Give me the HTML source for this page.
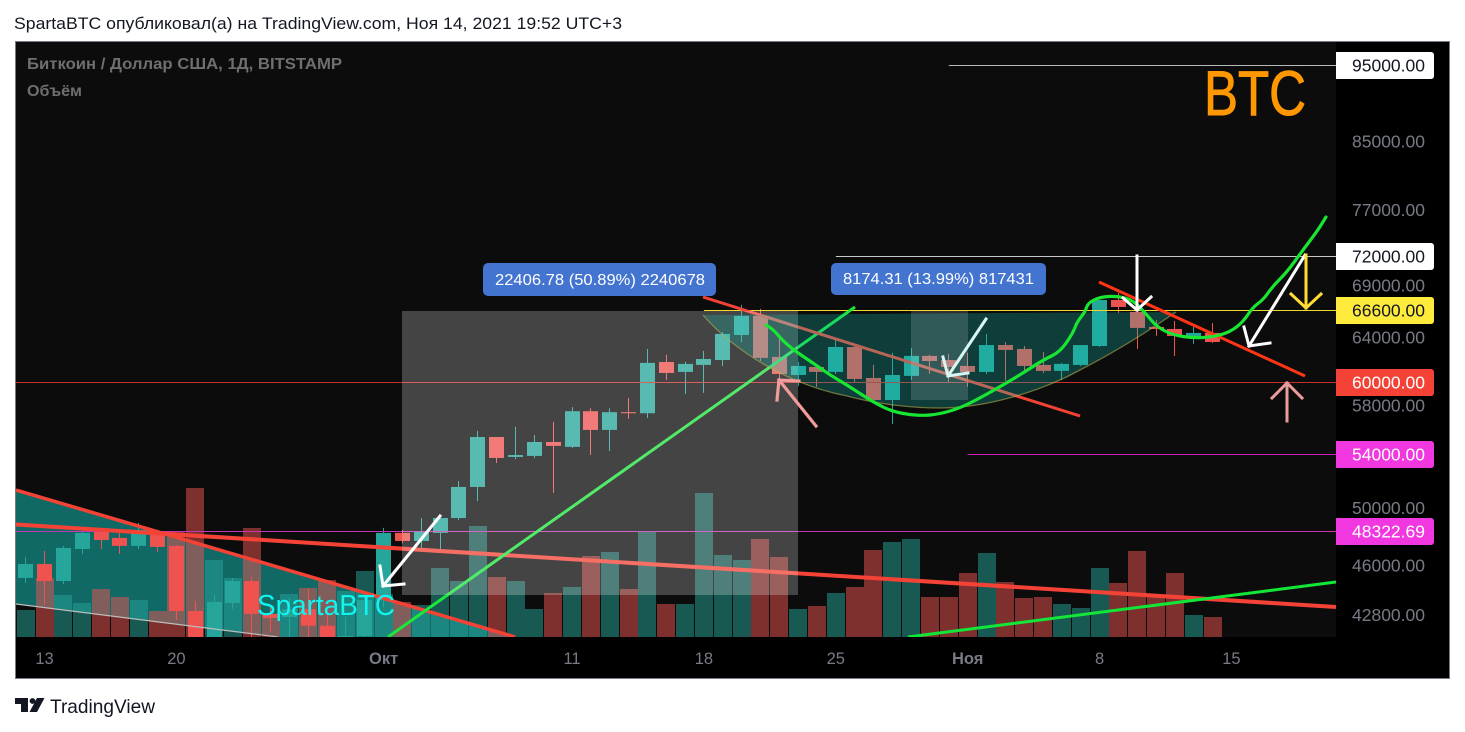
<!DOCTYPE html>
<html lang="ru">
<head>
<meta charset="utf-8">
<title>BTC chart</title>
<style>
html,body{margin:0;padding:0;background:#fff;width:1465px;height:732px;overflow:hidden}
svg{display:block}
text{font-family:"Liberation Sans","DejaVu Sans",sans-serif}
</style>
</head>
<body>
<svg id="root" xmlns="http://www.w3.org/2000/svg" width="1465" height="732" viewBox="0 0 1465 732">
  <defs>
    <clipPath id="plot-clip"><rect x="16" y="42" width="1320" height="595"/></clipPath>
  </defs>
  <rect width="1465" height="732" fill="#fff"/>
  <text x="14" y="29" font-size="17" fill="#131722" textLength="608" lengthAdjust="spacingAndGlyphs">SpartaBTC опубликовал(а) на TradingView.com, Ноя 14, 2021 19:52 UTC+3</text>
  <rect x="15.5" y="41.5" width="1434" height="637" fill="#000" stroke="#787b86" stroke-width="1"/>
  <rect x="16" y="42" width="1320" height="595" fill="#0c0c0c"/>

  <g clip-path="url(#plot-clip)">
    <polygon points="16,490 515,637 278,637 16,604" fill="rgba(20,155,150,.65)"/>
    <g id="volumes"></g>
    <g id="candles"></g>
    <g id="levels"></g>
    <line x1="16" y1="604" x2="278" y2="637" stroke="#bdbdbd" stroke-width="1.2"/>
    <line x1="16" y1="490" x2="515" y2="637" stroke="#f44336" stroke-width="3.5"/>
    <line x1="16" y1="524.5" x2="1336" y2="607" stroke="#f44336" stroke-width="4"/>
    <line x1="388" y1="637" x2="855" y2="307" stroke="#1de63c" stroke-width="3"/>
    <line x1="908" y1="637" x2="1336" y2="582" stroke="#12e636" stroke-width="3"/>
    <line x1="703" y1="297" x2="1080" y2="416" stroke="#f44336" stroke-width="3"/>
    <rect x="402" y="311" width="396" height="284" fill="rgba(255,255,255,.23)"/>
    <path d="M703,315 C735,352 790,385 847,396 C880,405 915,408 940,408 C985,408 1040,392 1080,370 C1115,352 1150,330 1176,312 L1000,313 Z" fill="rgba(20,190,180,.28)" stroke="none"/>
    <path d="M703,315 C735,352 790,385 847,396 C880,405 915,408 940,408 C985,408 1040,392 1080,370 C1115,352 1150,330 1176,312" fill="none" stroke="rgba(190,180,80,.55)" stroke-width="1.3"/>
    <rect x="911" y="311" width="57" height="89" fill="rgba(255,255,255,.15)"/>
    <line x1="1099" y1="282" x2="1305" y2="376" stroke="#ff3516" stroke-width="3"/>
    <path id="brush" fill="none" stroke="#18e632" stroke-width="3.2" stroke-linejoin="round" stroke-linecap="round" d="M766,325 L773,329 L782,340 L795,351 L813,363 L830,375 L847,385 L873,402 L893,412 L920,416 L940,414 L960,408 L980,398 L1003,385 L1023,373 L1043,360 L1060,352 L1073,333 L1077,322 L1085,312 L1088,303 L1100,297 L1117,296 L1133,300 L1147,315 L1157,327 L1173,335 L1193,338 L1213,337 L1230,332 L1243,322 L1253,307 L1263,300 L1273,286 L1287,272 L1303,250 L1318,230 L1326,217"/>
    <g fill="none" stroke-linecap="square" stroke-linejoin="miter">
      <path d="M440,516 L383,586 M380,566 L383,586 L404,584" stroke="#fff" stroke-width="3"/>
      <path d="M816,426 L779,380 M777,400 L779,380 L799,381" stroke="#f09c9c" stroke-width="3.2"/>
      <path d="M986,319 L948,376 M943,357 L948,376 L968,373" stroke="#d6f5f3" stroke-width="3"/>
      <path d="M1137,256 L1137,310 M1123,298 L1137,310 L1151,297" stroke="#fff" stroke-width="3"/>
      <path d="M1305,255 L1249,346 M1244,327 L1249,346 L1270,343" stroke="#fff" stroke-width="3"/>
      <path d="M1306,255 L1306,308 M1291,294 L1306,308 L1321,294" stroke="#ffdd33" stroke-width="3"/>
      <path d="M1287,421 L1287,383 M1272,398 L1287,383 L1302,398" stroke="#ea9c9c" stroke-width="3"/>
    </g>
    <text x="257" y="615" font-size="29" fill="#10f5f0" textLength="138" lengthAdjust="spacingAndGlyphs">SpartaBTC</text>
    <text x="1204" y="115" font-size="63" fill="#ff9800" stroke="#ff9800" stroke-width="1" textLength="102" lengthAdjust="spacingAndGlyphs">BTC</text>
    <text x="27" y="69" font-size="16" font-weight="bold" fill="#6f6f6f" textLength="315" lengthAdjust="spacingAndGlyphs">Биткоин / Доллар США, 1Д, BITSTAMP</text>
    <text x="27" y="96" font-size="16" font-weight="bold" fill="#6f6f6f" textLength="55" lengthAdjust="spacingAndGlyphs">Объём</text>
  </g>

  <g>
    <rect x="483" y="263" width="233" height="33" rx="5" fill="#4374cf"/>
    <text x="495" y="285" font-size="15.5" fill="#fff" textLength="210" lengthAdjust="spacingAndGlyphs">22406.78 (50.89%) 2240678</text>
  </g>
  <g>
    <rect x="831" y="263" width="215" height="32" rx="5" fill="#4374cf"/>
    <text x="843" y="284" font-size="15.5" fill="#fff" textLength="191" lengthAdjust="spacingAndGlyphs">8174.31 (13.99%) 817431</text>
  </g>

  <g id="y-axis"></g>
  <g id="x-axis"></g>

  <g>
    <path d="M15,698 H28 V712 H21 V704 H15 Z" fill="#131722"/>
    <circle cx="32.5" cy="701" r="2.9" fill="#131722"/>
    <polygon points="37,698 44.5,698 37,712 29.5,712" fill="#131722"/>
    <text x="50" y="713" font-size="19.5" fill="#131722" textLength="105" lengthAdjust="spacingAndGlyphs">TradingView</text>
  </g>
</svg>

<script>
// Daily BTC/USD candles, first entry is 12 Sep 2021 (day index -1)
var openPrices  = [45170,46090,44970,47110,48290,47870,47320,48290,47320,43060,41170,43560,44970,42880,42680,43170,42150,41050,41530,43750,48220,47660,48220,49270,51540,55410,53830,53910,55010,54620,57520,55980,57440,57350,61770,60890,61510,61950,64240,66040,62230,60620,61330,60890,63130,60360,58460,60540,62320,61950,61420,60890,63310,62950,61510,60980,61510,63220,67580,66420,64990,64800,64050,64430];
var highPrices  = [46570,46980,47320,48360,48570,48290,48920,48430,47380,43690,44070,45170,45240,43440,43900,44460,42800,42700,44100,48570,48430,49270,49420,51990,55900,55410,56230,55570,56630,57860,57770,57770,58630,62950,62410,61780,62770,64520,67100,66710,64050,61780,61330,63775,63310,61510,62590,63040,62410,62500,62590,64340,63590,63220,62680,61690,63310,67580,68270,67580,65650,65550,64990,65360];
var lowPrices   = [44840,43440,44780,46770,47110,46770,47110,46910,42500,40700,40700,43190,41000,41770,40800,41000,40800,40750,41400,43300,47500,47180,47110,49130,50500,53360,53670,53750,51100,54540,53980,54300,56880,56960,60180,58980,59070,61420,63590,61860,60180,59670,59580,60710,60010,58400,56460,60180,60710,60010,59580,60710,60100,60980,60800,60180,61420,63130,66330,62950,64150,62320,63410,63500];
var closePrices = [46090,44970,47180,48220,47730,47320,48430,47250,43060,41000,43630,44970,42880,42630,43170,42150,41050,41530,43750,48220,47660,48290,49270,51540,55410,53750,53980,55010,54700,57520,55980,57440,57350,61690,60800,61600,62040,64340,66040,62140,60710,61420,60890,63130,60270,58460,60620,62320,61860,61330,60890,63310,62860,61420,60980,61600,63310,67580,66900,64900,64800,64150,64430,63590];
var volumes = [1350,2950,2100,1700,2400,2000,1850,1300,5300,7450,3850,2950,5450,1100,2150,2450,2850,2300,3300,2150,1750,1600,3450,2800,5550,3000,2800,1400,2200,2500,4050,4250,2400,5250,1650,1650,7200,4100,3850,4900,4000,1400,1550,2200,2500,4350,4750,4900,2000,2000,3200,4200,2750,1950,2000,1650,1450,3450,2700,4300,2100,3200,1100,1000];
var firstDay = -1;

// Price axis
var axisTicks = [85000,77000,69000,64000,58000,50000,46000,42800];
var levelPrices = [95000,72000,66600,60000,54000,48322.69];
var levelStartDays = [48,42,35,-2,49,-2];
var levelLineColors = ["#b9b9b9","#c8c8c8","#f2d92e","#c9302a","#d020c0","#c436b4"];
var levelTagColors = ["#ffffff","#ffffff","#ffeb3b","#f44336","#f037e0","#f037e0"];
var levelTagText = ["#131722","#131722","#131722","#ffffff","#ffffff","#ffffff"];

// Time axis
var timeTickDays = [0,7,18,28,35,42,49,56,63];
var timeTickLabels = ["13","20","Окт","11","18","25","Ноя","8","15"];

function yScale(price){ return 65 + 690 * Math.log(95000 / price); }
function xScale(day){ return 44.5 + 18.84 * day; }
function yVolume(v){ return 637 - v / 50; }

var NS = "http://www.w3.org/2000/svg";
function make(tag, attrs){
  var el = document.createElementNS(NS, tag);
  for (var k in attrs) el.setAttribute(k, attrs[k]);
  return el;
}

var volGroup = document.getElementById("volumes");
var candleGroup = document.getElementById("candles");
volumes.forEach(function(v, i){
  var x = xScale(firstDay + i);
  var up = closePrices[i] >= openPrices[i];
  var top = yVolume(v);
  var bar = make("rect", {x: Math.round(x - 9), y: top, width: 18, height: 637 - top,
    fill: up ? "rgba(38,166,154,.5)" : "rgba(239,83,80,.5)"});
  
  
  volGroup.appendChild(bar);
});
openPrices.forEach(function(o, i){
  var x = xScale(firstDay + i);
  var c = closePrices[i];
  var up = c >= o;
  var color = up ? "#26a69a" : "#ef5350";
  var yTop = yScale(Math.max(o, c));
  var yBot = yScale(Math.min(o, c));
  var px = Math.floor(x) + 0.5;
  var wick = make("line", {x1: px, x2: px, y1: yScale(highPrices[i]), y2: yScale(lowPrices[i]), stroke: color, "stroke-width": 1});
  
  
  candleGroup.appendChild(wick);
  var body = make("rect", {x: Math.floor(x) - 7, y: yTop, width: 15, height: Math.max(1, yBot - yTop), fill: color});
  
  
  candleGroup.appendChild(body);
});

var levelsGroup = document.getElementById("levels");
var yAxis = document.getElementById("y-axis");
levelPrices.forEach(function(p, i){
  var y = Math.floor(yScale(p)) + 0.5;
  var line = make("line", {x1: xScale(levelStartDays[i]), x2: 1336, y1: y, y2: y, stroke: levelLineColors[i], "stroke-width": 1});
  
  
  levelsGroup.appendChild(line);
  var tag = make("path", {d: "M1336," + (y - 13.5) + " H1431 a3,3 0 0 1 3,3 V" + (y + 10.5) + " a3,3 0 0 1 -3,3 H1336 Z", fill: levelTagColors[i]});
  
  
  yAxis.appendChild(tag);
  var txt = make("text", {x: 1425, y: y + 6, "font-size": 17.5, "text-anchor": "end", fill: levelTagText[i]});
  
  
  txt.textContent = p.toFixed(2);
  yAxis.appendChild(txt);
});
axisTicks.forEach(function(p){
  var txt = make("text", {x: 1425, y: yScale(p) + 6, "font-size": 17.5, "text-anchor": "end", fill: "#787b86"});
  
  
  txt.textContent = p.toFixed(2);
  yAxis.appendChild(txt);
});

var xAxis = document.getElementById("x-axis");
timeTickDays.forEach(function(d, i){
  var bold = timeTickLabels[i].length > 2;
  var txt = make("text", {x: xScale(d), y: 664, "font-size": 16.5, "text-anchor": "middle", fill: "#787b86", "font-weight": bold ? "bold" : "normal"});
  
  
  txt.textContent = timeTickLabels[i];
  xAxis.appendChild(txt);
});

// Smooth the hand-drawn brush stroke with midpoint quadratics
var brush = document.getElementById("brush");
var nums = brush.getAttribute("d").match(/[\d.]+/g).map(Number);
var smooth = "M" + nums[0] + "," + nums[1];
for (var n = 2; n + 3 < nums.length; n += 2) {
  var mx = (nums[n] + nums[n + 2]) / 2;
  var my = (nums[n + 1] + nums[n + 3]) / 2;
  smooth += " Q" + nums[n] + "," + nums[n + 1] + " " + mx + "," + my;
}
smooth += " L" + nums[nums.length - 2] + "," + nums[nums.length - 1];
brush.setAttribute("d", smooth);
</script>
</body>
</html>
